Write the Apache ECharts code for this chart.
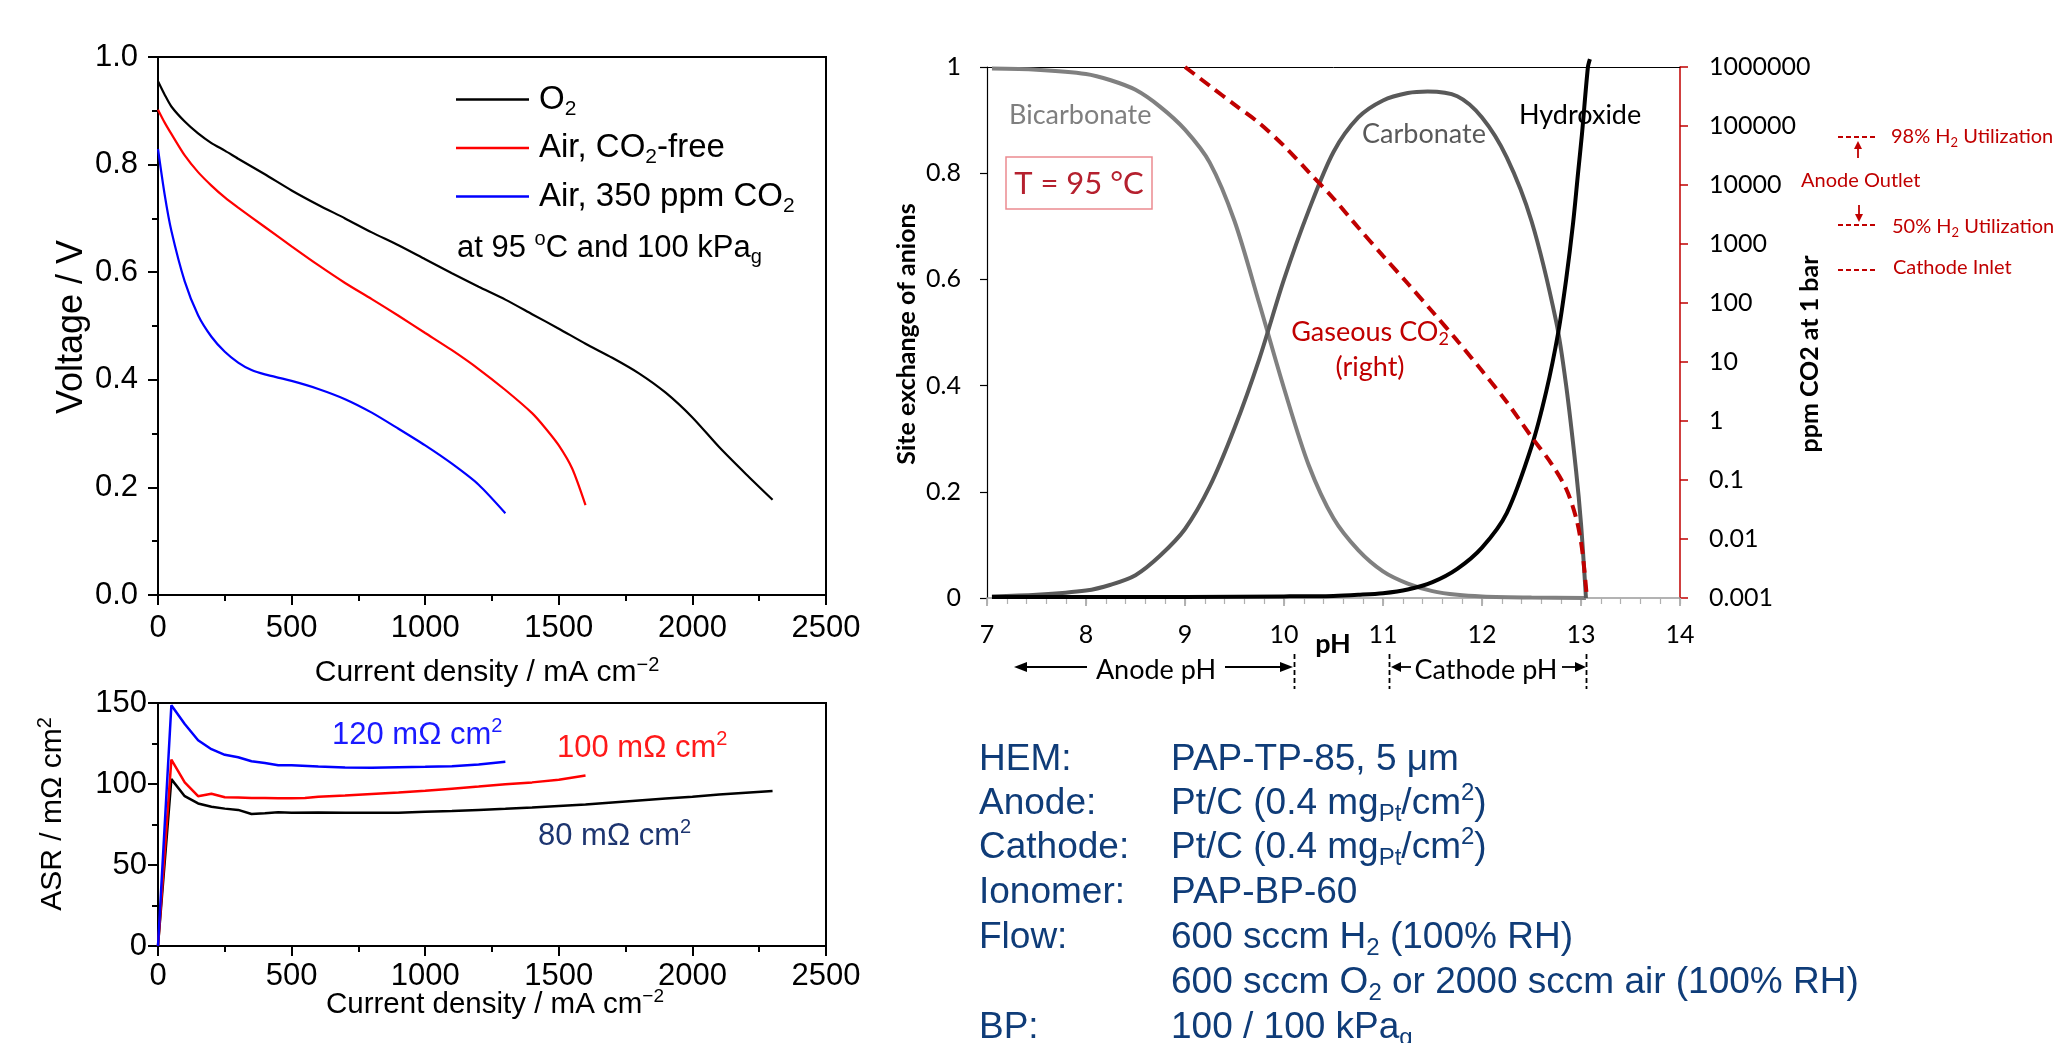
<!DOCTYPE html>
<html>
<head>
<meta charset="utf-8">
<script src="https://cdn.jsdelivr.net/npm/echarts@6/dist/echarts.min.js"></script>
<style>
html,body{margin:0;padding:0;background:#fff;}
#chart{width:2068px;height:1043px;}
</style>
</head>
<body>
<div id="chart"></div>
<script>
// ---- Polarization curves (mA cm^-2, V) ----
const currentO2 = [0,25,50,100,150,200,250,300,400,500,600,700,800,900,1000,1100,1200,1300,1400,1500,1600,1700,1800,1900,2000,2100,2200,2300];
const voltageO2 = [0.955,0.93,0.908,0.88,0.858,0.84,0.826,0.811,0.782,0.752,0.725,0.700,0.674,0.650,0.624,0.598,0.573,0.549,0.522,0.495,0.467,0.441,0.412,0.376,0.330,0.275,0.225,0.177];
const currentAir = [0,25,50,100,150,200,250,300,400,500,600,700,800,900,1000,1100,1200,1300,1400,1450,1500,1550,1600];
const voltageAir = [0.902,0.878,0.857,0.817,0.786,0.761,0.739,0.720,0.684,0.648,0.613,0.580,0.550,0.519,0.487,0.455,0.420,0.381,0.338,0.310,0.278,0.235,0.167];
const currentCO2 = [0,25,50,100,150,200,250,300,350,400,500,600,700,800,900,1000,1100,1200,1300];
const voltageCO2 = [0.829,0.744,0.677,0.583,0.520,0.480,0.452,0.432,0.418,0.410,0.398,0.383,0.364,0.339,0.309,0.278,0.244,0.205,0.152];

// ---- Area specific resistance (mOhm cm^2) ----
const asrCurrentO2 = [0,50,100,150,200,250,300,350,400,450,500,600,700,800,900,1000,1100,1200,1300,1400,1500,1600,1700,1800,1900,2000,2100,2200,2300];
const asrO2 = [0,103,92.5,88,86,84.8,84,81.5,82,82.6,82.3,82.4,82.2,82.3,82.3,82.8,83.3,84,84.7,85.5,86.4,87.3,88.6,89.8,91,92.2,93.5,94.6,95.7];
const asrCurrentAir = [0,50,100,150,200,250,300,350,400,450,500,550,600,700,800,900,1000,1100,1200,1300,1400,1500,1600];
const asrAir = [0,115,101,92.5,94,91.8,91.6,91.3,91.3,91.2,91.2,91.4,92.2,92.9,93.8,94.7,95.8,97.1,98.4,99.8,101,102.6,105.3];
const asrCurrentCO2 = [0,50,100,150,200,250,300,350,400,450,500,600,700,800,900,1000,1100,1200,1300];
const asrCO2 = [0,148.6,137,127,121.5,118,116.5,114,113,111.6,111.6,110.8,110.2,110,110.3,110.6,111,112,113.7];

// ---- Anion site exchange vs pH ----
const phBicarb = [7.05,7.5,8.0,8.25,8.5,8.75,9.0,9.25,9.5,9.75,10.0,10.25,10.5,10.75,11.0,11.25,11.5,11.75,12.0,12.5,13.05];
const fracBicarb = [0.997,0.995,0.987,0.975,0.957,0.925,0.882,0.82,0.71,0.555,0.395,0.25,0.15,0.09,0.05,0.027,0.013,0.006,0.003,0.001,0];
const phCarb = [7.05,7.5,8.0,8.25,8.5,8.75,9.0,9.25,9.5,9.75,10.0,10.25,10.5,10.75,11.0,11.25,11.45,11.75,12.0,12.25,12.5,12.75,12.85,12.95,13.0,13.05];
const fracCarb = [0.003,0.006,0.014,0.025,0.043,0.08,0.13,0.21,0.32,0.45,0.6,0.73,0.84,0.905,0.937,0.951,0.954,0.945,0.905,0.83,0.71,0.52,0.40,0.24,0.14,0];
const phOH = [7.05,8,9,10,10.5,10.75,11.0,11.25,11.5,11.75,12.0,12.25,12.5,12.65,12.77,12.85,12.92,12.97,13.01,13.07,13.09];
const fracOH = [0.002,0.002,0.002,0.003,0.004,0.006,0.009,0.016,0.03,0.055,0.095,0.16,0.285,0.39,0.5,0.6,0.706,0.8,0.874,1.0,1.015];
const phCO2 = [9.0,9.25,9.5,9.75,10.0,10.25,10.5,10.75,11.0,11.25,11.5,11.75,12.0,12.25,12.5,12.7,12.85,12.95,13.0,13.03,13.06];
const ppmCO2 = [1000000,480000,230000,112000,46000,16600,5900,1900,630,214,71,23,7.1,2.1,0.54,0.19,0.071,0.023,0.0089,0.0035,0.001];

// ---- Tick labels ----
const ppmTickLabels = ['0.001','0.01','0.1','1','10','100','1000','10000','100000','1000000'];

// ---- Test conditions ----
const conditionLabels = ['HEM:','Anode:','Cathode:','Ionomer:','Flow:','','BP:'];
const conditionValues = [
  'PAP-TP-85, 5 μm',
  'Pt/C (0.4 mg{sub|Pt}/cm{sup|2})',
  'Pt/C (0.4 mg{sub|Pt}/cm{sup|2})',
  'PAP-BP-60',
  '600 sccm H{sub|2} (100% RH)',
  '600 sccm O{sub|2} or 2000 sccm air (100% RH)',
  '100 / 100 kPa{sub|g}'
];

const FONT_A = '"Liberation Sans", Arial, Helvetica, sans-serif';
const FONT_C = 'Lato, "Open Sans", sans-serif';

function zip(xs, ys) { return xs.map((x, i) => [x, ys[i]]); }

// rich text styles for sub/superscripts
function richSet(size, color, family, weight) {
  const L = Math.round(size * 1.2);
  const s = Math.round(size * 0.65);
  const base = { fontFamily: family, fontWeight: weight || 'normal', color: color };
  return {
    n: Object.assign({ fontSize: size, lineHeight: L }, base),
    sub: Object.assign({ fontSize: s, verticalAlign: 'top', padding: [Math.round(L / 2 + 0.3 * size - s / 2), 0, 0, 0] }, base),
    sup: Object.assign({ fontSize: s, verticalAlign: 'top', padding: [0, 0, 0, 0] }, base)
  };
}
function wrapRich(t) {
  // plain runs become {n|...} tokens
  return t.split(/(\{(?:sub|sup)\|[^}]*\})/).filter(p => p.length).map(p => p.startsWith('{') ? p : '{n|' + p + '}').join('');
}
function txt(x, y, text, o) {
  o = o || {};
  const size = o.size || 30, family = o.family || FONT_A, color = o.color || '#000', weight = o.weight || 'normal';
  const align = o.align || 'left';
  return {
    type: 'text', x: x, y: y, rotation: o.rotation || 0, z: 100,
    style: {
      text: wrapRich(text), fill: color, fontSize: size, fontFamily: family, fontWeight: weight,
      align: align, textAlign: align, verticalAlign: 'middle', textVerticalAlign: 'middle',
      rich: richSet(size, color, family, weight)
    }
  };
}
function seg(x1, y1, x2, y2, color, width, dash) {
  return { type: 'line', z: 100, shape: { x1, y1, x2, y2 }, style: { stroke: color, lineWidth: width || 1.5, lineDash: dash || null } };
}
function head(points, color) {
  return { type: 'polygon', z: 100, shape: { points: points }, style: { fill: color } };
}

const black = '#000';

function leftValueAxis(grid, min, max, interval, labelFmt, margin) {
  return {
    gridIndex: grid, type: 'value', min, max, interval,
    axisLine: { show: true, lineStyle: { color: black, width: 2 } },
    axisTick: { show: true, length: 10, lineStyle: { color: black, width: 2 } },
    minorTick: { show: true, splitNumber: 2, length: 6, lineStyle: { color: black, width: 2 } },
    axisLabel: { fontFamily: FONT_A, fontSize: 31, color: black, margin: margin, formatter: labelFmt },
    splitLine: { show: false }
  };
}
function currentAxis(grid, margin) {
  return {
    gridIndex: grid, type: 'value', min: 0, max: 2500, interval: 500,
    axisLine: { show: true, onZero: false, lineStyle: { color: black, width: 2 } },
    axisTick: { show: true, length: 10, lineStyle: { color: black, width: 2 } },
    minorTick: { show: true, splitNumber: 2, length: 6, lineStyle: { color: black, width: 2 } },
    axisLabel: { fontFamily: FONT_A, fontSize: 31, color: black, margin: margin, formatter: v => String(v) },
    splitLine: { show: false }
  };
}

const chart = echarts.init(document.getElementById('chart'), null, { renderer: 'canvas' });

const legendRich = richSet(33, black, FONT_A);
const legendNames = { 'O2': '{n|O}{sub|2}', 'Air, CO2-free': '{n|Air, CO}{sub|2}{n|-free}', 'Air, 350 ppm CO2': '{n|Air, 350 ppm CO}{sub|2}' };

const graphics = [
  // polarization panel
  txt(72, 327, 'Voltage / V', { rotation: Math.PI / 2, align: 'center', size: 36 }),
  txt(487, 673, 'Current density / mA cm{sup|−2}', { align: 'center', size: 30 }),
  txt(457, 248, 'at 95 {sup|o}C and 100 kPa{sub|g}', { size: 31 }),
  // ASR panel
  txt(53, 814, 'ASR / mΩ cm{sup|2}', { rotation: Math.PI / 2, align: 'center', size: 30 }),
  txt(495, 1005, 'Current density / mA cm{sup|−2}', { align: 'center', size: 29.5 }),
  txt(332, 735, '120 mΩ cm{sup|2}', { size: 31, color: '#1a1aff' }),
  txt(557, 748, '100 mΩ cm{sup|2}', { size: 31, color: '#ff1a1a' }),
  txt(538, 836, '80 mΩ cm{sup|2}', { size: 31, color: '#1d3570' }),
  // speciation panel
  txt(907, 334, 'Site exchange of anions', { rotation: Math.PI / 2, align: 'center', size: 25, weight: 'bold', family: FONT_C }),
  txt(1810, 354, 'ppm CO2 at 1 bar', { rotation: Math.PI / 2, align: 'center', size: 25, weight: 'bold', family: FONT_C }),
  txt(1333, 644, 'pH', { align: 'center', size: 27, weight: 'bold', family: FONT_C }),
  txt(1009, 115, 'Bicarbonate', { size: 27, family: FONT_C, color: '#7f7f7f' }),
  txt(1362, 134, 'Carbonate', { size: 27, family: FONT_C, color: '#595959' }),
  txt(1519, 115, 'Hydroxide', { size: 27, family: FONT_C, color: '#000' }),
  txt(1370, 332, 'Gaseous CO{sub|2}', { align: 'center', size: 27, family: FONT_C, color: '#c00000' }),
  txt(1370, 367, '(right)', { align: 'center', size: 27, family: FONT_C, color: '#c00000' }),
  { type: 'rect', z: 100, shape: { x: 1006, y: 157, width: 146, height: 52 }, style: { fill: 'none', stroke: '#ec8a90', lineWidth: 1.5 } },
  txt(1079, 184, 'T = 95 °C', { align: 'center', size: 31, family: FONT_C, color: '#b5202e' }),
  // pH ranges below the axis
  seg(1020, 667, 1087, 667, black, 1.8), head([[1014, 667], [1027, 662], [1027, 672]], black),
  txt(1156, 670, 'Anode pH', { align: 'center', size: 27, family: FONT_C }),
  seg(1225, 667, 1284, 667, black, 1.8), head([[1293, 667], [1280, 662], [1280, 672]], black),
  seg(1294.5, 654, 1294.5, 689, black, 1.8, [5, 3]),
  seg(1389.5, 654, 1389.5, 689, black, 1.8, [5, 3]),
  seg(1398, 667, 1411, 667, black, 1.8), head([[1391, 667], [1401, 662], [1401, 672]], black),
  txt(1486, 670, 'Cathode pH', { align: 'center', size: 27, family: FONT_C }),
  seg(1562, 667, 1578, 667, black, 1.8), head([[1586, 667], [1575, 662], [1575, 672]], black),
  seg(1586.5, 654, 1586.5, 689, black, 1.8, [5, 3]),
  // CO2 reference levels
  seg(1838, 137, 1876, 137, '#c00000', 2, [5, 3]),
  txt(1891, 137, '98% H{sub|2} Utilization', { size: 20, family: FONT_C, color: '#c00000' }),
  seg(1858, 158, 1858, 148, '#c00000', 1.8), head([[1858, 141], [1854, 149], [1862, 149]], '#c00000'),
  txt(1801, 181, 'Anode Outlet', { size: 20, family: FONT_C, color: '#c00000' }),
  seg(1859, 205, 1859, 215, '#c00000', 1.8), head([[1859, 222], [1855, 214], [1863, 214]], '#c00000'),
  seg(1838, 225, 1876, 225, '#c00000', 2, [5, 3]),
  txt(1892, 227, '50% H{sub|2} Utilization', { size: 20, family: FONT_C, color: '#c00000' }),
  seg(1838, 270, 1877, 270, '#c00000', 2, [5, 3]),
  txt(1893, 268, 'Cathode Inlet', { size: 20, family: FONT_C, color: '#c00000' })
];

// test conditions block
const condColor = '#0f3c78';
const condY = [760, 804, 848, 893, 938, 983, 1028];
conditionLabels.forEach((lab, i) => {
  if (lab) graphics.push(txt(979, condY[i], lab, { size: 37, color: condColor }));
  graphics.push(txt(1171, condY[i], conditionValues[i], { size: 37, color: condColor }));
});

const option = {
  animation: false,
  backgroundColor: '#fff',
  grid: [
    { left: 158, top: 57, width: 668, height: 538, show: true, borderColor: black, borderWidth: 2, backgroundColor: 'transparent' },
    { left: 158, top: 703, width: 668, height: 243, show: true, borderColor: black, borderWidth: 2, backgroundColor: 'transparent' },
    { left: 987, top: 67, width: 693, height: 531 }
  ],
  legend: {
    left: 451, top: 78, orient: 'vertical', icon: 'rect', itemWidth: 73, itemHeight: 2.5, itemGap: 12,
    data: ['O2', 'Air, CO2-free', 'Air, 350 ppm CO2'],
    selectedMode: false,
    formatter: name => legendNames[name],
    textStyle: { fontFamily: FONT_A, fontSize: 33, color: black, rich: legendRich, padding: [0, 0, 0, 5] }
  },
  xAxis: [
    currentAxis(0, 18),
    currentAxis(1, 15),
    {
      gridIndex: 2, type: 'value', min: 7, max: 14, interval: 1,
      axisLine: { show: true, onZero: false, lineStyle: { color: '#9a9a9a', width: 1.5 } },
      axisTick: { show: true, length: 8, lineStyle: { color: '#9a9a9a', width: 1.5 } },
      axisLabel: { fontFamily: FONT_C, fontSize: 25, color: black, margin: 24 },
      splitLine: { show: false }
    },
    {
      gridIndex: 2, type: 'value', min: 7, max: 14, interval: 0.2,
      axisLine: { show: false }, axisLabel: { show: false },
      axisTick: { show: true, inside: true, length: 6, lineStyle: { color: '#b0b0b0', width: 1.2 } },
      splitLine: { show: false }
    },
    {
      gridIndex: 2, type: 'value', position: 'top', min: 7, max: 14,
      axisLine: { show: true, onZero: false, lineStyle: { color: black, width: 1 } },
      axisTick: { show: false }, axisLabel: { show: false }, splitLine: { show: false }
    }
  ],
  yAxis: [
    leftValueAxis(0, 0, 1, 0.2, v => v.toFixed(1), 20),
    leftValueAxis(1, 0, 150, 50, v => String(v), 11),
    {
      gridIndex: 2, type: 'value', min: 0, max: 1, interval: 0.2, position: 'left',
      axisLine: { show: true, onZero: false, lineStyle: { color: black, width: 1.2 } },
      axisTick: { show: true, length: 7, lineStyle: { color: black, width: 1.2 } },
      axisLabel: { fontFamily: FONT_C, fontSize: 25, color: black, margin: 26 },
      splitLine: { show: false }
    },
    {
      gridIndex: 2, type: 'log', logBase: 10, min: 0.001, max: 1000000, splitNumber: 9, position: 'right',
      axisLine: { show: true, onZero: false, lineStyle: { color: '#c00000', width: 1.5 } },
      axisTick: { show: true, length: 8, lineStyle: { color: '#c00000', width: 1.5 } },
      axisLabel: {
        fontFamily: FONT_C, fontSize: 25, color: black, margin: 29,
        formatter: v => ppmTickLabels[Math.round(Math.log10(v)) + 3]
      },
      splitLine: { show: false }
    }
  ],
  series: [
    { name: 'O2', type: 'line', xAxisIndex: 0, yAxisIndex: 0, data: zip(currentO2, voltageO2), symbol: 'none', smooth: 0.25, color: '#000', lineStyle: { color: '#000', width: 2.2 } },
    { name: 'Air, CO2-free', type: 'line', xAxisIndex: 0, yAxisIndex: 0, data: zip(currentAir, voltageAir), symbol: 'none', smooth: 0.25, color: '#ff0000', lineStyle: { color: '#ff0000', width: 2.2 } },
    { name: 'Air, 350 ppm CO2', type: 'line', xAxisIndex: 0, yAxisIndex: 0, data: zip(currentCO2, voltageCO2), symbol: 'none', smooth: 0.25, color: '#0000ff', lineStyle: { color: '#0000ff', width: 2.2 } },

    { name: 'O2', type: 'line', xAxisIndex: 1, yAxisIndex: 1, data: zip(asrCurrentO2, asrO2), symbol: 'none', color: '#000', lineStyle: { color: '#000', width: 2.5 } },
    { name: 'Air, CO2-free', type: 'line', xAxisIndex: 1, yAxisIndex: 1, data: zip(asrCurrentAir, asrAir), symbol: 'none', color: '#ff0000', lineStyle: { color: '#ff0000', width: 2.5 } },
    { name: 'Air, 350 ppm CO2', type: 'line', xAxisIndex: 1, yAxisIndex: 1, data: zip(asrCurrentCO2, asrCO2), symbol: 'none', color: '#0000ff', lineStyle: { color: '#0000ff', width: 2.5 } },

    { name: 'Bicarbonate', type: 'line', xAxisIndex: 2, yAxisIndex: 2, data: zip(phBicarb, fracBicarb), symbol: 'none', smooth: 0.3, lineStyle: { color: '#808080', width: 4 } },
    { name: 'Carbonate', type: 'line', xAxisIndex: 2, yAxisIndex: 2, data: zip(phCarb, fracCarb), symbol: 'none', smooth: 0.3, lineStyle: { color: '#595959', width: 4 } },
    { name: 'Hydroxide', type: 'line', xAxisIndex: 2, yAxisIndex: 2, data: zip(phOH, fracOH), symbol: 'none', smooth: 0.3, clip: false, lineStyle: { color: '#000', width: 4 } },
    { name: 'Gaseous CO2', type: 'line', xAxisIndex: 2, yAxisIndex: 3, data: zip(phCO2, ppmCO2), symbol: 'none', smooth: 0.3, lineStyle: { color: '#c00000', width: 4, type: [12, 7] } }
  ],
  graphic: graphics
};

chart.setOption(option);
</script>
</body>
</html>
